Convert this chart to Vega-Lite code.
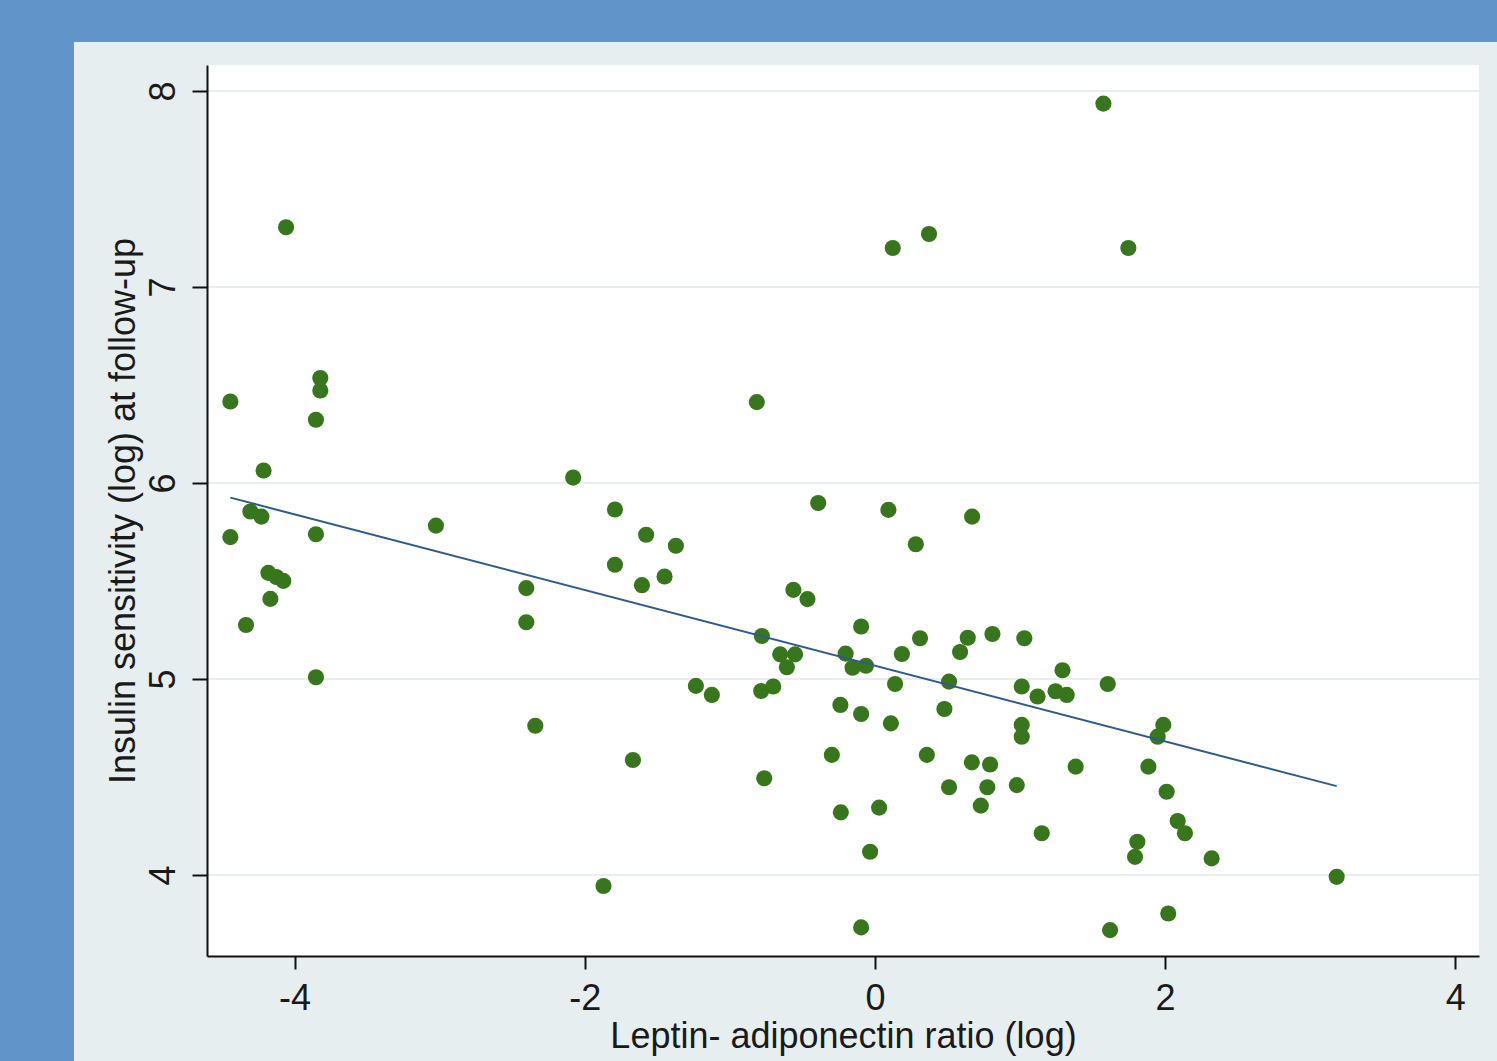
{
  "$schema": "https://vega.github.io/schema/vega-lite/v6.json",
  "width": 1272,
  "height": 891,
  "autosize": {"type": "none"},
  "padding": {"left": 207, "top": 65, "right": 18, "bottom": 105},
  "background": "#6194C8",
  "config": {
    "view": {"stroke": null, "fill": null},
    "font": "Liberation Sans",
    "axis": {
      "grid": false,
      "domainColor": "#111111",
      "domainWidth": 2,
      "tickColor": "#111111",
      "tickWidth": 2,
      "labelFont": "Liberation Sans",
      "labelFontSize": 36,
      "labelColor": "#1a1a1a",
      "titleFont": "Liberation Sans",
      "titleFontSize": 36,
      "titleFontWeight": "normal",
      "titleColor": "#1a1a1a"
    }
  },
  "datasets": {
    "obs": [
      {"lar": 1.575, "ins": 7.936}, {"lar": -4.059, "ins": 7.305}, {"lar": 0.123, "ins": 7.199},
      {"lar": 0.373, "ins": 7.271}, {"lar": 1.747, "ins": 7.199}, {"lar": -4.443, "ins": 6.416},
      {"lar": -3.823, "ins": 6.536}, {"lar": -3.823, "ins": 6.472}, {"lar": -3.853, "ins": 6.323},
      {"lar": -0.814, "ins": 6.413}, {"lar": -4.214, "ins": 6.064}, {"lar": -2.080, "ins": 6.028},
      {"lar": -4.443, "ins": 5.724}, {"lar": -4.305, "ins": 5.855}, {"lar": -4.229, "ins": 5.829},
      {"lar": -3.026, "ins": 5.783}, {"lar": -1.792, "ins": 5.865}, {"lar": -0.391, "ins": 5.898},
      {"lar": 0.093, "ins": 5.863}, {"lar": 0.670, "ins": 5.829}, {"lar": -3.853, "ins": 5.739},
      {"lar": -1.792, "ins": 5.583}, {"lar": -1.577, "ins": 5.736}, {"lar": -1.372, "ins": 5.680},
      {"lar": 0.282, "ins": 5.688}, {"lar": -4.181, "ins": 5.542}, {"lar": -4.126, "ins": 5.521},
      {"lar": -4.078, "ins": 5.501}, {"lar": -2.403, "ins": 5.464}, {"lar": -1.606, "ins": 5.479},
      {"lar": -1.450, "ins": 5.523}, {"lar": -4.167, "ins": 5.409}, {"lar": -4.335, "ins": 5.276},
      {"lar": -2.403, "ins": 5.290}, {"lar": -0.562, "ins": 5.455}, {"lar": -0.465, "ins": 5.408},
      {"lar": -3.853, "ins": 5.009}, {"lar": -0.779, "ins": 5.220}, {"lar": -0.095, "ins": 5.268},
      {"lar": 0.311, "ins": 5.208}, {"lar": 0.640, "ins": 5.211}, {"lar": 0.810, "ins": 5.230},
      {"lar": 1.030, "ins": 5.208}, {"lar": -0.653, "ins": 5.126}, {"lar": -0.550, "ins": 5.126},
      {"lar": -0.607, "ins": 5.060}, {"lar": -0.202, "ins": 5.130}, {"lar": -0.154, "ins": 5.058},
      {"lar": -0.062, "ins": 5.068}, {"lar": 0.186, "ins": 5.128}, {"lar": 0.587, "ins": 5.138},
      {"lar": 1.293, "ins": 5.045}, {"lar": -1.234, "ins": 4.965}, {"lar": -1.124, "ins": 4.919},
      {"lar": -0.784, "ins": 4.939}, {"lar": -0.701, "ins": 4.962}, {"lar": 0.139, "ins": 4.975},
      {"lar": 0.511, "ins": 4.987}, {"lar": 1.012, "ins": 4.962}, {"lar": 1.121, "ins": 4.911},
      {"lar": 1.245, "ins": 4.938}, {"lar": 1.322, "ins": 4.919}, {"lar": 1.605, "ins": 4.975},
      {"lar": -2.341, "ins": 4.762}, {"lar": -0.238, "ins": 4.868}, {"lar": -0.095, "ins": 4.822},
      {"lar": 0.110, "ins": 4.774}, {"lar": 0.479, "ins": 4.847}, {"lar": 1.012, "ins": 4.766},
      {"lar": 1.012, "ins": 4.706}, {"lar": 1.988, "ins": 4.766}, {"lar": 1.949, "ins": 4.706},
      {"lar": -1.668, "ins": 4.587}, {"lar": -0.297, "ins": 4.613}, {"lar": 0.358, "ins": 4.613},
      {"lar": 0.668, "ins": 4.575}, {"lar": 0.794, "ins": 4.564}, {"lar": 1.384, "ins": 4.553},
      {"lar": 1.885, "ins": 4.553}, {"lar": -0.763, "ins": 4.494}, {"lar": 0.511, "ins": 4.448},
      {"lar": 0.775, "ins": 4.448}, {"lar": 0.978, "ins": 4.459}, {"lar": 2.011, "ins": 4.425},
      {"lar": -0.235, "ins": 4.320}, {"lar": 0.029, "ins": 4.344}, {"lar": 0.730, "ins": 4.354},
      {"lar": 1.150, "ins": 4.213}, {"lar": 2.087, "ins": 4.276}, {"lar": 2.137, "ins": 4.213},
      {"lar": 1.809, "ins": 4.170}, {"lar": 1.793, "ins": 4.093}, {"lar": 2.321, "ins": 4.085},
      {"lar": -0.033, "ins": 4.119}, {"lar": -1.871, "ins": 3.944}, {"lar": 3.183, "ins": 3.991},
      {"lar": 2.022, "ins": 3.804}, {"lar": -0.095, "ins": 3.733}, {"lar": 1.621, "ins": 3.719}
    ],
    "gridlines": [{"g": 4}, {"g": 5}, {"g": 6}, {"g": 7}, {"g": 8}]
  },
  "layer": [
    {
      "description": "outer graph region behind the axes",
      "data": {"values": [{}]},
      "mark": {"type": "rect", "color": "#E7EEF0", "clip": false},
      "encoding": {
        "x": {
          "datum": -5.521, "type": "quantitative",
          "scale": {"domain": [-4.604, 4.164], "nice": false, "zero": false},
          "axis": {"title": "Leptin- adiponectin ratio (log)", "values": [-4, -2, 0, 2, 4], "labelExpr": "datum.value < 0 ? '-' + abs(datum.value) : '' + datum.value", "tickSize": 13, "labelPadding": 12, "titlePadding": 3, "zindex": 2}
        },
        "x2": {"datum": 4.5},
        "y": {
          "datum": 8.25, "type": "quantitative",
          "scale": {"domain": [3.587, 8.133], "nice": false, "zero": false},
          "axis": {"title": "Insulin sensitivity (log) at follow-up", "values": [4, 5, 6, 7, 8], "format": "d", "tickSize": 15, "labelAngle": -90, "labelPadding": 10, "titlePadding": 3, "zindex": 2}
        },
        "y2": {"datum": 2.8}
      }
    },
    {
      "description": "white plot region",
      "data": {"values": [{}]},
      "mark": {"type": "rect", "color": "#FFFFFF"},
      "encoding": {
        "x": {"datum": -4.604, "type": "quantitative"},
        "x2": {"datum": 4.164},
        "y": {"datum": 8.133, "type": "quantitative"},
        "y2": {"datum": 3.587}
      }
    },
    {
      "data": {"name": "gridlines"},
      "mark": {"type": "rule", "color": "#E9EEEF", "strokeWidth": 2},
      "encoding": {
        "y": {"field": "g", "type": "quantitative"}
      }
    },
    {
      "data": {"name": "obs"},
      "mark": {"type": "point", "filled": true, "shape": "circle", "size": 260, "color": "#38761D", "opacity": 1},
      "encoding": {
        "x": {"field": "lar", "type": "quantitative"},
        "y": {"field": "ins", "type": "quantitative"}
      }
    },
    {
      "data": {"name": "obs"},
      "transform": [{"regression": "ins", "on": "lar"}],
      "mark": {"type": "line", "color": "#2F5A8C", "strokeWidth": 2},
      "encoding": {
        "x": {"field": "lar", "type": "quantitative"},
        "y": {"field": "ins", "type": "quantitative"}
      }
    }
  ]
}
